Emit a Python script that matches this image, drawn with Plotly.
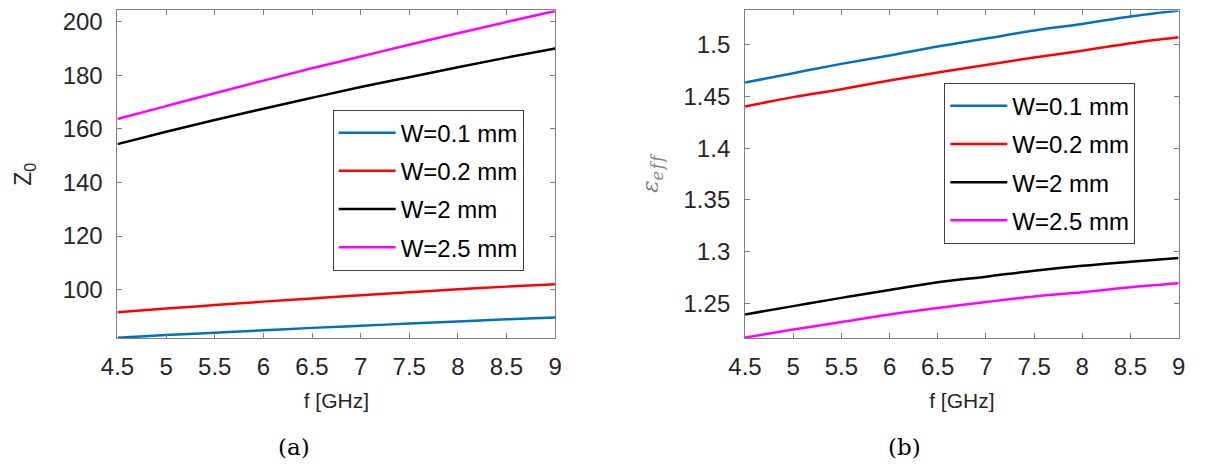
import plotly.graph_objects as go

freq = [4.5, 5.0, 5.5, 6.0, 6.5, 7.0, 7.5, 8.0, 8.5, 9.0]
names = ["W=0.1 mm", "W=0.2 mm", "W=2 mm", "W=2.5 mm"]
colors = ["#0072BD", "#FF0000", "#000000", "#FF00FF"]

# (a) characteristic impedance Z0
z0_w01 = [82.0, 83.0, 83.9, 84.8, 85.7, 86.5, 87.3, 88.1, 88.9, 89.6]
z0_w02 = [91.5, 92.9, 94.2, 95.5, 96.7, 97.9, 99.0, 100.1, 101.1, 102.0]
z0_w2 = [154.3, 158.9, 163.3, 167.5, 171.6, 175.6, 179.3, 183.0, 186.6, 190.0]
z0_w25 = [163.7, 168.5, 173.3, 178.0, 182.6, 187.0, 191.4, 195.7, 199.9, 204.0]

# (b) effective permittivity
eps_w01 = [1.4635, 1.4726, 1.4816, 1.4897, 1.4984, 1.5061, 1.5139, 1.5203, 1.5274, 1.5332]
eps_w02 = [1.4403, 1.4494, 1.4571, 1.4655, 1.4732, 1.4806, 1.4877, 1.4942, 1.5016, 1.5074]
eps_w2 = [1.2391, 1.2471, 1.2551, 1.2628, 1.2702, 1.2756, 1.2814, 1.2862, 1.2901, 1.2936]
eps_w25 = [1.2167, 1.2244, 1.2317, 1.2391, 1.2452, 1.2510, 1.2564, 1.2606, 1.2654, 1.2692]

x_ticks = [4.5, 5, 5.5, 6, 6.5, 7, 7.5, 8, 8.5, 9]
x_ticktext = ["4.5", "5", "5.5", "6", "6.5", "7", "7.5", "8", "8.5", "9"]
z_ticks = [100, 120, 140, 160, 180, 200]
z_ticktext = ["100", "120", "140", "160", "180", "200"]
e_ticks = [1.25, 1.3, 1.35, 1.4, 1.45, 1.5]
e_ticktext = ["1.25", "1.3", "1.35", "1.4", "1.45", "1.5"]

z_series = [z0_w01, z0_w02, z0_w2, z0_w25]
e_series = [eps_w01, eps_w02, eps_w2, eps_w25]

W, H = 1216, 467
TICKC = "#262626"
AXC = "#808080"
SANS = "Liberation Sans, Arial, sans-serif"
SERIF = "DejaVu Serif, serif"

fig = go.Figure()
for i, (nm, c, ys) in enumerate(zip(names, colors, z_series)):
    fig.add_trace(go.Scatter(x=freq, y=ys, mode="lines", name=nm,
                             line=dict(color=c, width=2.5, shape="spline", smoothing=1.0),
                             xaxis="x", yaxis="y", legend="legend", legendgroup="a%d" % i))
for i, (nm, c, ys) in enumerate(zip(names, colors, e_series)):
    fig.add_trace(go.Scatter(x=freq, y=ys, mode="lines", name=nm,
                             line=dict(color=c, width=2.5, shape="spline", smoothing=1.0),
                             xaxis="x2", yaxis="y2", legend="legend2", legendgroup="b%d" % i))

ydom = [1 - 337.5 / H, 1 - 8.5 / H]

def xax(dom, anchor):
    return dict(domain=dom, anchor=anchor, range=[4.5, 9], tickvals=x_ticks, ticktext=x_ticktext,
                ticks="inside", ticklen=5, tickcolor=AXC, showline=True, linecolor=AXC, linewidth=1,
                mirror="ticks", showgrid=False, zeroline=False, ticklabelstandoff=7,
                tickfont=dict(family=SANS, size=24, color=TICKC),
                title=dict(text="f [GHz]", font=dict(family=SANS, size=21, color=TICKC), standoff=14))

def yax(anchor, rng, tv, tt, title):
    return dict(domain=ydom, anchor=anchor, range=rng, tickvals=tv, ticktext=tt,
                ticks="inside", ticklen=5, tickcolor=AXC, showline=True, linecolor=AXC, linewidth=1,
                mirror="ticks", showgrid=False, zeroline=False, ticklabelstandoff=9,
                tickfont=dict(family=SANS, size=24, color=TICKC), title=title)

legend_common = dict(font=dict(family=SANS, size=24, color="#000000"), bgcolor="white",
                     bordercolor="#404040", borderwidth=1, itemwidth=57, traceorder="grouped",
                     tracegroupgap=4, xanchor="left", yanchor="top", itemclick=False)

fig.update_layout(
    width=W, height=H, margin=dict(l=0, r=0, t=0, b=0),
    paper_bgcolor="white", plot_bgcolor="white", showlegend=True,
    xaxis=xax([102.5 / W, 549 / W], "y"),
    yaxis=yax("x", [81.9, 204.2], z_ticks, z_ticktext,
              dict(text="Z<sub>0</sub>", font=dict(family=SANS, size=23, color=TICKC), standoff=24)),
    xaxis2=xax([742.7 / W, 1185 / W], "y2"),
    yaxis2=yax("x2", [1.2162, 1.5333], e_ticks, e_ticktext,
               dict(text="<i>ε</i><sub><i>e\u200a\u200cf\u200a\u200cf</i></sub>",
                    font=dict(family=SERIF, size=23, color="#808080"), standoff=18)),
    legend=dict(x=322 / W, y=1 - 108 / H, **legend_common),
    legend2=dict(x=946 / W, y=1 - 81 / H, **legend_common),
    annotations=[
        dict(text="(a)", x=283 / W, y=1 - 447 / H, xref="paper", yref="paper", showarrow=False,
             xanchor="center", yanchor="middle",
             font=dict(family=SERIF, size=23, color="#000000")),
        dict(text="(b)", x=905 / W, y=1 - 447 / H, xref="paper", yref="paper", showarrow=False,
             xanchor="center", yanchor="middle",
             font=dict(family=SERIF, size=23, color="#000000")),
    ],
)

fig.write_html("out.html")
